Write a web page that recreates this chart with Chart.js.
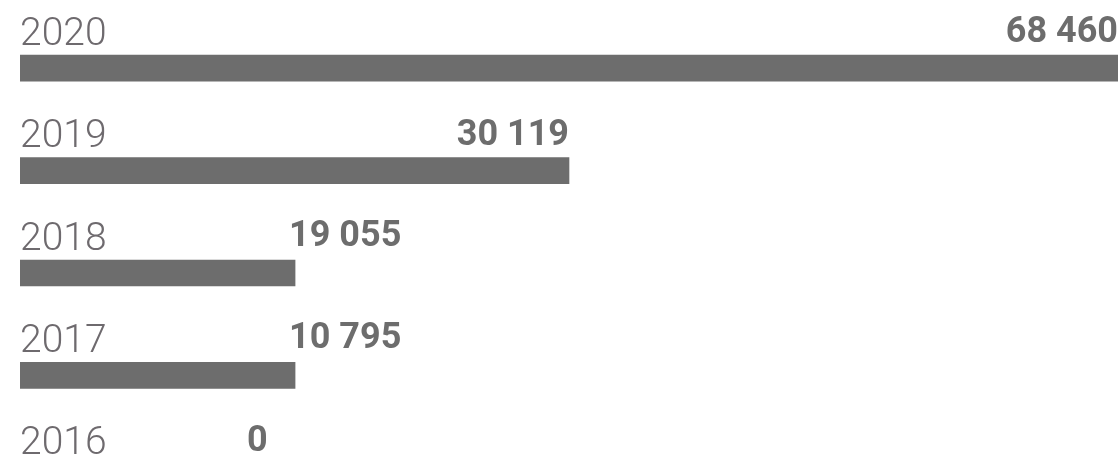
<!DOCTYPE html>
<html>
<head>
<meta charset="utf-8">
<script src="https://cdn.jsdelivr.net/npm/chart.js@4/dist/chart.umd.min.js"></script>
<style>
    html, body { margin: 0; padding: 0; background: #fff; overflow: hidden; }
    /* the chart runs past the bottom of the window, the 2016 row is cut off */
    #wrap { position: relative; width: 1120px; height: 530px; }
</style>
</head>
<body>
<div id="wrap"><canvas id="chart"></canvas></div>
<script>
// years, top to bottom
const years = ["2020", "2019", "2018", "2017", "2016"];
// printed totals
const totals = [68460, 30119, 19055, 10795, 0];
// bar lengths as drawn in the picture (same units as totals)
const barLengths = [68460, 34230, 17150, 17150, 0];

const BAR_COLOR = "#6d6d6d";
const YEAR_COLOR = "#6e6a6e";

function formatTotal(n) {
    return String(n).replace(/\B(?=(\d{3})+(?!\d))/g, " ");
}

/**
 * 年ラベルと値ラベルを各バーの上に描く
 */
const rowLabels = {
    id: "rowLabels",
    afterDatasetsDraw(chart) {
        const ctx = chart.ctx;
        const area = chart.chartArea;
        const meta = chart.getDatasetMeta(0);
        ctx.save();
        ctx.textBaseline = "alphabetic";
        meta.data.forEach((bar, i) => {
            const top = bar.y - bar.height / 2;

            ctx.fillStyle = YEAR_COLOR;
            ctx.font = "300 39px Roboto, 'Liberation Sans', sans-serif";
            ctx.textAlign = "left";
            ctx.fillText(years[i], area.left, top - 10.5);

            ctx.fillStyle = BAR_COLOR;
            ctx.font = "bold 36px Roboto, 'Liberation Sans', sans-serif";
            const text = formatTotal(totals[i]);
            const len = bar.x - area.left;
            if (len >= area.width * 0.4) {
                ctx.textAlign = "right";
                ctx.fillText(text, bar.x, top - 13);
            } else {
                // 短いバーはラベルをバーの右側に出す
                ctx.textAlign = "left";
                ctx.fillText(text, Math.max(bar.x - 6, 247), top - 14);
            }
        });
        ctx.restore();
    }
};

const ctx = document.getElementById("chart").getContext("2d");
new Chart(ctx, {
    type: "bar",
    data: {
        labels: years,
        datasets: [{
            data: barLengths,
            backgroundColor: BAR_COLOR,
            borderWidth: 0,
            barThickness: 26,
        }],
    },
    options: {
        indexAxis: "y",
        responsive: true,
        maintainAspectRatio: false,
        animation: false,
        layout: { padding: { left: 20, right: 2, top: 17, bottom: 1 } },
        scales: {
            x: { display: false, min: 0, max: 68460, grid: { display: false } },
            y: { display: false, grid: { display: false } },
        },
        plugins: {
            legend: { display: false },
            tooltip: { enabled: false },
        },
    },
    plugins: [rowLabels],
});
</script>
</body>
</html>
